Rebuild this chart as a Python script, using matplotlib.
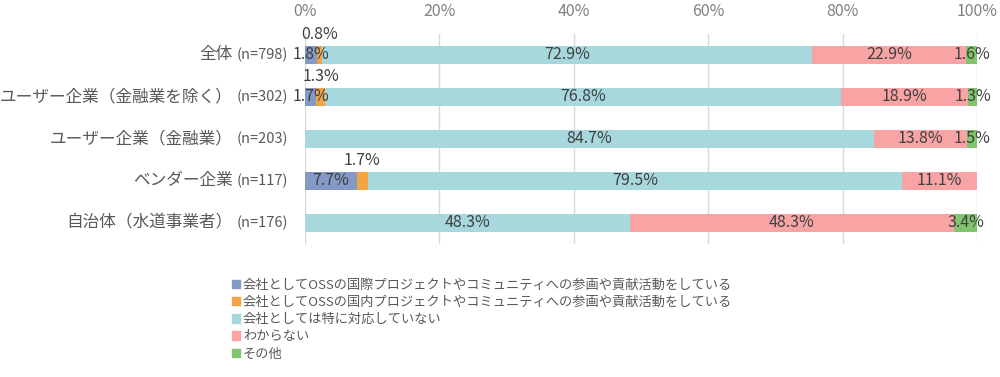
import numpy as np
import matplotlib
matplotlib.use("Agg")
import matplotlib.pyplot as plt
import matplotlib.patches as mpatches

plt.rcParams["font.family"] = ["Noto Sans CJK JP", "DejaVu Sans"]

categories = ["全体", "ユーザー企業（金融業を除く）", "ユーザー企業（金融業）", "ベンダー企業", "自治体（水道事業者）"]
sample_sizes = ["(n=798)", "(n=302)", "(n=203)", "(n=117)", "(n=176)"]
series_names = [
    "会社としてOSSの国際プロジェクトやコミュニティへの参画や貢献活動をしている",
    "会社としてOSSの国内プロジェクトやコミュニティへの参画や貢献活動をしている",
    "会社としては特に対応していない",
    "わからない",
    "その他",
]
intl = [1.8, 1.7, 0.0, 7.7, 0.0]
domestic = [0.8, 1.3, 0.0, 1.7, 0.0]
no_action = [72.9, 76.8, 84.7, 79.5, 48.3]
unknown = [22.9, 18.9, 13.8, 11.1, 48.3]
other = [1.6, 1.3, 1.5, 0.0, 3.4]
ticks = [0, 20, 40, 60, 80, 100]

colors = ["#8399c6", "#f2a444", "#a7d8dd", "#f9a4a4", "#80c46c"]
series = [intl, domestic, no_action, unknown, other]

fig = plt.figure(figsize=(10, 3.77), dpi=100)
ax = fig.add_axes([0.305, 0.353, 0.672, 0.557])

y = np.arange(len(categories))
left = np.zeros(len(categories))
for k, (vals, col) in enumerate(zip(series, colors)):
    vals = np.array(vals)
    ax.barh(y, vals, left=left, height=0.42, color=col, zorder=3)
    for i, v in enumerate(vals):
        if v <= 0:
            continue
        cx = left[i] + v / 2
        if k == 1:
            # small domestic share: label sits above the bar
            ax.text(cx, y[i] - 0.48, f"{v:.1f}%", ha="center", va="center",
                    fontsize=11.5, color="#404040", zorder=4)
        else:
            ax.text(cx, y[i], f"{v:.1f}%", ha="center", va="center",
                    fontsize=11.5, color="#404040", zorder=4)
    left = left + vals

ax.set_xlim(0, 100)
ax.set_ylim(len(categories) - 0.5, -0.5)
ax.set_xticks(ticks)
ax.set_xticklabels([f"{t}%" for t in ticks], fontsize=11.5, color="#808080")
ax.xaxis.tick_top()
ax.tick_params(axis="x", length=0, pad=10)
ax.set_yticks([])
ax.grid(axis="x", color="#d9d9d9", linewidth=1, zorder=0)
for s in ax.spines.values():
    s.set_visible(False)

for i, (name, n) in enumerate(zip(categories, sample_sizes)):
    nt = ax.annotate(n, xy=(0, y[i]), xycoords=("axes fraction", "data"),
                     xytext=(-12, 0), textcoords="offset points",
                     ha="right", va="center", fontsize=10.5, color="#595959")
    ax.annotate(name, xy=(0, 0.5), xycoords=nt, xytext=(-3, 0),
                textcoords="offset points", ha="right", va="center",
                fontsize=12, color="#595959")

handles = [mpatches.Patch(color=c, label=l) for c, l in zip(colors, series_names)]
fig.legend(handles=handles, loc="upper left", bbox_to_anchor=(0.227, 0.275),
           frameon=False, fontsize=9.5, handlelength=0.6, handleheight=0.6,
           handletextpad=0.2, labelspacing=0.32, borderaxespad=0, labelcolor="#595959")

fig.savefig("out.png", dpi=100)
